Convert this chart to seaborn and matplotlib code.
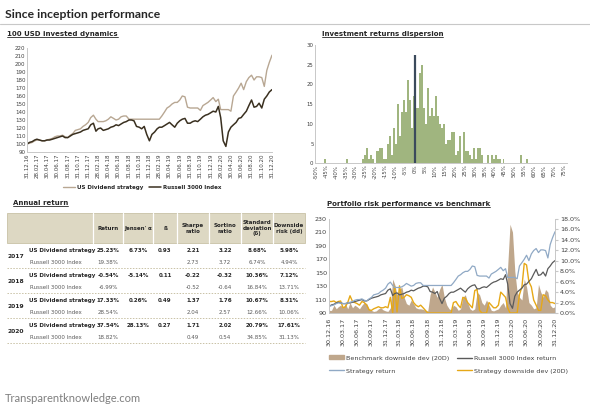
import numpy as np
import pandas as pd
import matplotlib
matplotlib.use("Agg")
import matplotlib.pyplot as plt
import seaborn as sns
from matplotlib.lines import Line2D
from matplotlib.patches import Rectangle, Patch

# ---------------- data ----------------
# semi-monthly observations (15th and month end) from 31.12.2016 to 31.12.2020
strategy_value = [100,
    101, 102, 104, 105, 105, 104, 104, 105, 106, 107, 109, 110, 110, 111, 109, 108, 111, 113, 117, 118, 119, 122, 124, 127,
    133, 136, 131, 128, 128, 128, 129, 131, 134, 132, 130, 131, 134, 135, 135, 131, 131, 131, 131, 131, 131, 131, 131, 131,
    131, 131, 131, 131, 135, 140, 145, 147, 150, 152, 152, 155, 160, 159, 146, 145, 145, 145, 145, 142, 148, 150, 152, 155,
    158, 153, 156, 143, 143, 143, 143, 141, 160, 165, 170, 176, 168, 178, 183, 186, 180, 184, 184, 183, 172, 192, 202, 211]
russell_value = [100,
    102, 103, 105, 106, 105, 104, 104, 105, 105, 106, 107, 108, 109, 110, 108, 108, 110, 112, 113, 114, 115, 117, 118, 119,
    124, 126, 116, 119, 120, 117, 118, 119, 121, 122, 124, 123, 125, 127, 128, 130, 130, 129, 122, 121, 119, 122, 112, 104,
    112, 115, 119, 121, 121, 123, 125, 127, 124, 121, 126, 129, 131, 132, 126, 126, 128, 129, 128, 131, 134, 136, 137, 139,
    141, 140, 147, 133, 104, 97, 115, 121, 124, 127, 132, 133, 137, 141, 148, 155, 146, 147, 151, 145, 156, 160, 165, 168]
benchmark_dd_pct = [0.5,
    0.5, 1.5, 0.8, 1.2, 1.5, 1.0, 1.8, 0.8, 2.0, 1.0, 1.5, 1.2, 0.8, 1.5, 2.0, 1.8, 0.8, 0.5, 0.3, 0.4, 0.8, 1.0, 0.6, 0.4,
    0.3, 1.0, 6.5, 5.5, 3.5, 4.5, 5.0, 3.0, 1.8, 1.5, 2.5, 1.8, 1.0, 0.8, 0.8, 0.7, 0.5, 0.4, 3.5, 5.0, 4.0, 3.0, 4.5, 5.5,
    3.0, 1.5, 0.8, 0.6, 1.5, 1.2, 0.5, 0.8, 3.0, 3.5, 2.0, 0.8, 0.5, 0.8, 4.0, 3.5, 2.0, 1.5, 2.5, 1.5, 0.5, 0.4, 0.6, 0.8,
    1.5, 2.0, 1.0, 9.0, 17.0, 15.5, 8.0, 4.0, 3.0, 2.5, 6.5, 5.0, 2.0, 1.5, 0.8, 1.0, 5.5, 4.0, 3.0, 4.5, 4.0, 1.5, 1.0, 1.2]
strategy_dd_pct = [2.2,
    2.2, 2.3, 2.0, 2.2, 2.3, 1.0, 1.2, 2.0, 3.3, 2.2, 2.0, 1.8, 1.5, 2.2, 2.0, 1.5, 0.6, 0.5, 0.8, 1.0, 1.2, 1.0, 1.0, 1.2,
    1.0, 3.0, 0.0, 5.1, 0.2, 5.2, 2.8, 3.0, 3.5, 3.3, 3.0, 2.0, 1.5, 1.2, 1.5, 1.0, 0.5, 0.0, 0.0, 0.0, 0.0, 0.0, 0.0, 0.0,
    0.0, 0.0, 0.0, 0.0, 2.0, 2.2, 1.5, 1.0, 3.0, 2.8, 2.0, 1.5, 1.0, 4.3, 4.5, 0.5, 0.0, 0.0, 0.0, 2.0, 1.5, 1.0, 1.0, 1.5,
    4.0, 3.5, 3.0, 1.0, 0.0, 0.0, 0.0, 0.0, 3.5, 5.0, 9.5, 9.2, 6.0, 5.0, 2.5, 1.5, 0.5, 0.5, 3.5, 3.3, 2.5, 2.0, 2.0, 1.8]

left_ticks = ["31.12.16", "28.02.17", "30.04.17", "30.06.17", "31.08.17", "31.10.17", "31.12.17", "28.02.18",
              "30.04.18", "30.06.18", "31.08.18", "31.10.18", "31.12.18", "28.02.19", "30.04.19", "30.06.19",
              "31.08.19", "31.10.19", "31.12.19", "29.02.20", "30.04.20", "30.06.20", "31.08.20", "31.10.20", "31.12.20"]
risk_ticks = ["30.12.16", "30.03.17", "30.06.17", "30.09.17", "31.12.17", "31.03.18", "30.06.18", "30.09.18",
              "31.12.18", "31.03.19", "30.06.19", "30.09.19", "31.12.19", "31.03.20", "30.06.20", "30.09.20", "31.12.20"]

# histogram of returns: bin (percent, lower edge) and count
hist_bins = [-46, -35, -27, -26, -25, -24, -23, -22, -20, -19, -18, -17, -16, -15,
             -14, -13, -12, -11, -10, -9, -8, -7, -6, -5, -4, -3, -2, -1,
             0, 1, 2, 3, 4, 5, 6, 7, 8, 9, 10, 11, 12, 13, 14, 15, 16, 17, 18, 19,
             20, 21, 22, 24, 25, 26, 27, 28, 29, 30, 31, 32, 33, 36, 38, 39, 40, 41, 42, 44, 53, 56]
hist_counts = [1, 1, 1, 2, 4, 1, 2, 1, 3, 3, 4, 4, 1, 1,
               5, 7, 2, 9, 5, 15, 7, 13, 16, 13, 21, 16, 9, 17,
               14, 14, 23, 25, 14, 10, 19, 12, 14, 12, 17, 12, 10, 9, 10, 5, 6, 6, 8, 8,
               2, 3, 7, 8, 3, 3, 2, 1, 4, 1, 4, 4, 2, 2, 2, 1, 2, 1, 1, 1, 2, 1]

# annual return table
years = ["2017", "2018", "2019", "2020"]
headers = ["Return", "Jensen' \u03b1", "\u00df", "Sharpe\nratio", "Sortino\nratio", "Standard\ndeviation\n(\u03b4)", "Downside\nrisk (dd)"]
strat_return = ["25.23%", "-0.54%", "17.33%", "37.54%"]
strat_jensen = ["6.73%", "-5.14%", "0.26%", "28.13%"]
strat_beta = ["0.93", "0.11", "0.49", "0.27"]
strat_sharpe = ["2.21", "-0.22", "1.37", "1.71"]
strat_sortino = ["3.22", "-0.32", "1.76", "2.02"]
strat_std = ["8.68%", "10.36%", "10.67%", "20.79%"]
strat_dd = ["5.98%", "7.12%", "8.31%", "17.61%"]
idx_return = ["19.38%", "-6.99%", "28.54%", "18.82%"]
idx_sharpe = ["2.73", "-0.52", "2.04", "0.49"]
idx_sortino = ["3.72", "-0.64", "2.57", "0.54"]
idx_std = ["6.74%", "16.84%", "12.66%", "34.85%"]
idx_dd = ["4.94%", "13.71%", "10.06%", "31.13%"]

# ---------------- style ----------------
sns.set_style("white")
plt.rcParams["font.family"] = ["DejaVu Sans"]

C_TAN = "#b8a793"
C_DARK = "#3a3020"
C_GREEN = "#a0b57f"
C_VLINE = "#3b4a5c"
C_BLUE = "#90a9c5"
C_GRAY = "#5a5a5a"
C_AREA = "#bfa78c"
C_GOLD = "#e6a817"
C_SPINE = "#c8c8c8"
C_TXT = "#262626"

W, H = 590, 408
fig = plt.figure(figsize=(W / 100, H / 100), dpi=100)
fig.patch.set_facecolor("white")


def fx(x):
    return x / W


def fy(y):
    return 1 - y / H


def T(x, y, s, **kw):
    kw.setdefault("color", C_TXT)
    return fig.text(fx(x), fy(y), s, **kw)


dates = [pd.Timestamp(2016, 12, 31)]
for yr in range(2017, 2021):
    for mo in range(1, 13):
        dates.append(pd.Timestamp(yr, mo, 15))
        dates.append(pd.Timestamp(yr, mo, 1) + pd.offsets.MonthEnd(0))
df = pd.DataFrame({"date": dates, "strategy": strategy_value, "russell": russell_value,
                   "bench_dd": np.array(benchmark_dd_pct) / 100, "strat_dd": np.array(strategy_dd_pct) / 100})
hdf = pd.DataFrame({"ret": np.array(hist_bins, dtype=float) + 0.5, "count": np.array(hist_counts, dtype=float)})


def style_spines(ax, sides=("left", "bottom")):
    for s in ["left", "right", "top", "bottom"]:
        if s in sides:
            ax.spines[s].set_visible(True)
            ax.spines[s].set_color(C_SPINE)
            ax.spines[s].set_linewidth(0.7)
        else:
            ax.spines[s].set_visible(False)


# ---------------- titles ----------------
T(5, 14, "Since inception performance", fontsize=8.7, fontweight="bold", family=["Lato", "DejaVu Sans"], va="center")
fig.add_artist(Line2D([0, 1], [fy(24), fy(24)], color="#c8c8c8", lw=0.8))
sec_titles = [
    T(7, 34, "100 USD invested dynamics", fontsize=5, fontweight="bold", va="center"),
    T(322, 34, "Investment returns dispersion", fontsize=5, fontweight="bold", va="center"),
    T(13, 203, "Annual return", fontsize=5, fontweight="bold", va="center"),
    T(327, 204, "Portfolio risk performance vs benchmark", fontsize=5, fontweight="bold", va="center"),
]
T(5, 398, "Transparentknowledge.com", fontsize=8, family=["Lato", "DejaVu Sans"], color="#7f7f7f", va="center")

# ---------------- 100 USD invested dynamics ----------------
ax1 = fig.add_axes([fx(27), fy(152), (272 - 27) / W, (152 - 48) / H])
sns.lineplot(data=df, x="date", y="strategy", ax=ax1, color=C_TAN, lw=1.0)
sns.lineplot(data=df, x="date", y="russell", ax=ax1, color=C_DARK, lw=1.1)
ax1.set_xlim(pd.Timestamp(2016, 12, 31), pd.Timestamp(2020, 12, 31))
ax1.set_ylim(90, 220)
ax1.set_yticks(range(90, 221, 10))
ax1.set_xticks(pd.to_datetime(left_ticks, format="%d.%m.%y"))
ax1.set_xticklabels(left_ticks, rotation=90)
ax1.set_xlabel("")
ax1.set_ylabel("")
ax1.tick_params(axis="both", labelsize=4, pad=1, length=0, colors="#404040")
style_spines(ax1)
fig.legend([Line2D([], [], color=C_TAN, lw=1.0), Line2D([], [], color=C_DARK, lw=1.1)],
           ["US Dividend strategy", "Russell 3000 Index"], loc="center left",
           bbox_to_anchor=(fx(63), fy(187.5)), ncol=2, frameon=False,
           prop={"size": 4, "weight": "bold"}, handlelength=2.2, handletextpad=0.4,
           columnspacing=0.9, borderpad=0, borderaxespad=0)

# ---------------- Investment returns dispersion ----------------
ax2 = fig.add_axes([fx(315), fy(163.3), 252 / W, 118.3 / H])
sns.histplot(data=hdf, x="ret", weights="count", binwidth=1, binrange=(-50, 77),
             ax=ax2, color=C_GREEN, alpha=1, linewidth=0, element="bars")
ax2.vlines(0, 0, 27.5, color=C_VLINE, lw=1.6, zorder=5)
ax2.set_xlim(-50.5, 76.5)
ax2.set_ylim(0, 30)
ax2.set_yticks(range(0, 31, 5))
xt = list(range(-50, 76, 5))
ax2.set_xticks(xt)
ax2.set_xticklabels([f"{v}%" for v in xt], rotation=90)
ax2.set_xlabel("")
ax2.set_ylabel("")
ax2.tick_params(axis="both", labelsize=3.9, pad=1, length=0, colors="#404040")
style_spines(ax2)

# ---------------- Annual return table ----------------
col_edges = [93, 123, 153, 177, 209, 241, 273, 305]
col_centers = [(a + b) / 2 for a, b in zip(col_edges[:-1], col_edges[1:])]
h_top, h_bot = 212.7, 243.3
fig.add_artist(Rectangle((fx(7), fy(h_bot)), (305 - 7) / W, (h_bot - h_top) / H, transform=fig.transFigure,
                         facecolor="#ddd8c3", edgecolor="#c9c2a6", lw=0.6))
for e in col_edges[:-1]:
    fig.add_artist(Line2D([fx(e), fx(e)], [fy(h_top + 0.5), fy(h_bot - 0.5)], color="white", lw=0.9))
for cx, hd in zip(col_centers, headers):
    T(cx, 228.3, hd, fontsize=4, fontweight="bold", ha="center", va="center", linespacing=1.15)

strat_cols = [strat_return, strat_jensen, strat_beta, strat_sharpe, strat_sortino, strat_std, strat_dd]
idx_cols = [idx_return, None, None, idx_sharpe, idx_sortino, idx_std, idx_dd]
for i, yr in enumerate(years):
    ys = 250.7 + 25 * i
    yi = ys + 12
    T(7, ys + 6, yr, fontsize=4.3, fontweight="bold", va="center")
    T(29, ys, "US Dividend strategy", fontsize=4, fontweight="bold", va="center")
    T(30, yi, "Russell 3000 Index", fontsize=4, color="#595959", va="center")
    for cx, col in zip(col_centers, strat_cols):
        T(cx, ys, col[i], fontsize=4, fontweight="bold", ha="center", va="center")
    for cx, col in zip(col_centers, idx_cols):
        if col is not None:
            T(cx, yi, col[i], fontsize=4, color="#595959", ha="center", va="center")
    fig.add_artist(Line2D([fx(7), fx(305)], [fy(ys + 17), fy(ys + 17)], color="#c9c2a6", lw=0.7,
                          linestyle=(0, (1.5, 1.5))))

# ---------------- Portfolio risk performance vs benchmark ----------------
ax3 = fig.add_axes([fx(329), fy(313), (555 - 329) / W, (313 - 219) / H])
ax4 = ax3.twinx()
ax4.fill_between(df["date"], 0, df["bench_dd"], color=C_AREA, linewidth=0)
sns.lineplot(data=df, x="date", y="strat_dd", ax=ax4, color=C_GOLD, lw=1.0)
sns.lineplot(data=df, x="date", y="russell", ax=ax3, color=C_GRAY, lw=0.9)
sns.lineplot(data=df, x="date", y="strategy", ax=ax3, color=C_BLUE, lw=0.9)
ax3.set_zorder(ax4.get_zorder() + 1)
ax3.patch.set_visible(False)
ax3.set_xlim(pd.Timestamp(2016, 12, 30), pd.Timestamp(2020, 12, 31))
ax3.set_ylim(90, 230)
ax3.set_yticks(range(90, 231, 20))
ax4.set_ylim(0, 0.18)
ax4.set_yticks(np.arange(0, 0.181, 0.02))
ax4.set_yticklabels([f"{v * 100:.1f}%" for v in np.arange(0, 0.181, 0.02)])
ax3.set_xticks(pd.to_datetime(risk_ticks, format="%d.%m.%y"))
ax3.set_xticklabels(risk_ticks, rotation=90)
for a in (ax3, ax4):
    a.set_xlabel("")
    a.set_ylabel("")
    a.tick_params(axis="both", labelsize=4.6, pad=1.5, length=0, colors="#404040")
    a.grid(False)
style_spines(ax3, ("left", "bottom", "right"))
style_spines(ax4, ("left", "bottom", "right"))
ax3.tick_params(axis="x", length=2, color=C_SPINE)
ax4.tick_params(axis="y", length=2, color=C_SPINE)

fig.legend([Patch(color=C_AREA), Line2D([], [], color=C_BLUE, lw=1.0),
            Line2D([], [], color=C_GRAY, lw=1.0), Line2D([], [], color=C_GOLD, lw=1.0)],
           ["Benchmark downside dev (20D)", "Strategy return", "Russell 3000 Index return",
            "Strategy downside dev (20D)"],
           loc="center left", bbox_to_anchor=(fx(329), fy(364.5)), ncol=2, frameon=False,
           prop={"size": 4.6}, handlelength=2.3, handleheight=0.6, handletextpad=0.3,
           columnspacing=1.3, labelspacing=1.2, borderpad=0, borderaxespad=0, labelcolor="#404040")

# underline section titles
fig.canvas.draw()
for t in sec_titles:
    bb = t.get_window_extent()
    yline = bb.y0 + 0.2
    fig.add_artist(Line2D([bb.x0 / W, bb.x1 / W], [yline / H, yline / H], color=C_TXT, lw=0.6))

fig.savefig("out.png", dpi=100, facecolor="white")
